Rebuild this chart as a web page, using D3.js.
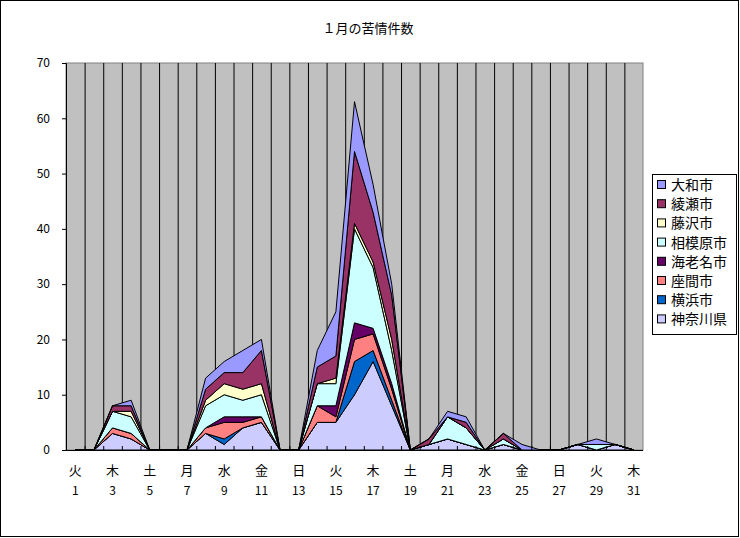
<!DOCTYPE html>
<html>
<head>
<meta charset="utf-8">
<script src="https://cdn.jsdelivr.net/npm/d3@7"></script>
<style>
  body { margin: 0; background: #fff; }
  text { font-family: "Noto Sans CJK JP", sans-serif; }
</style>
</head>
<body>
<div id="grafico"></div>
<script>
// categorias (dias de janeiro) e dias da semana
const days = [1,2,3,4,5,6,7,8,9,10,11,12,13,14,15,16,17,18,19,20,21,22,23,24,25,26,27,28,29,30,31];
const weekdays = ["火","水","木","金","土","日","月","火","水","木","金","土","日","月","火","水","木","金","土","日","月","火","水","木","金","土","日","月","火","水","木"];

// séries, de baixo para cima na pilha
const kanagawa = [0,0,3,2,0,0,0,3,1,4,5,0,0,5,5,10,16,8,0,1,2,1,0,1,0,0,0,1,0,1,0];
const yokohama = [0,0,0,0,0,0,0,0,1,0,0,0,0,0,0,6,2,1,0,0,0,0,0,0,0,0,0,0,0,0,0];
const zama     = [0,0,1,1,0,0,0,1,3,1,1,0,0,3,1,4,3,2,0,0,0,0,0,0,0,0,0,0,0,0,0];
const ebina    = [0,0,0,0,0,0,0,0,1,1,0,0,0,0,2,3,1,1,0,0,0,0,0,0,0,0,0,0,0,0,0];
const sagamihara = [0,0,3,3,0,0,0,4,4,3,4,0,0,4,4,17,11,6,0,0,4,3,0,1,0,0,0,0,1,0,0];
const fujisawa = [0,0,0,1,0,0,0,1,2,2,2,0,0,0,1,1,1,2,0,0,0,0,0,0,0,0,0,0,0,0,0];
const ayase    = [0,0,1,1,0,0,0,2,2,3,6,0,0,3,4,13,9,8,0,1,0,1,0,1,0,0,0,0,0,0,0];
const yamato   = [0,0,0,1,0,0,0,2,2,4,2,0,0,3,8,9,5,2,0,0,1,1,0,0,1,0,0,0,1,0,0];

const seriesNames = ["神奈川県","横浜市","座間市","海老名市","相模原市","藤沢市","綾瀬市","大和市"];
const seriesValues = [kanagawa, yokohama, zama, ebina, sagamihara, fujisawa, ayase, yamato];
const seriesColors = ["#CCCCFF","#0066CC","#FF8080","#660066","#CCFFFF","#FFFFCC","#993366","#9999FF"];
const yTicks = [0,10,20,30,40,50,60,70];

const width = 740, height = 538;
const plot = { left: 66, right: 643, top: 63, bottom: 450 };

const svg = d3.select("#grafico")
    .append("svg")
    .attr("width", width)
    .attr("height", height);

// moldura externa
svg.append("rect")
    .attr("x", 0.5).attr("y", 0.5)
    .attr("width", width - 2).attr("height", height - 2)
    .attr("fill", "#fff")
    .attr("stroke", "#000");

svg.append("text")
    .attr("x", 368).attr("y", 33)
    .attr("text-anchor", "middle")
    .style("font-size", "13px")
    .text("１月の苦情件数");

// tabela para o d3.stack
const rows = days.map((d, i) => {
    const r = { day: d };
    seriesNames.forEach((n, k) => r[n] = seriesValues[k][i]);
    return r;
});
const stacked = d3.stack().keys(seriesNames)(rows);

const x = d3.scaleBand().domain(days).range([plot.left, plot.right]).padding(0);
const y = d3.scaleLinear().domain([0, 70]).range([plot.bottom, plot.top]);
const cx = d => x(d) + x.bandwidth() / 2;

// fundo cinza da área de plotagem
svg.append("rect")
    .attr("x", plot.left).attr("y", plot.top)
    .attr("width", plot.right - plot.left).attr("height", plot.bottom - plot.top)
    .attr("fill", "#C0C0C0")
    .attr("stroke", "#808080");

// linhas de grade verticais nos limites das categorias
svg.append("g")
    .selectAll("line")
    .data(days.slice(1))
    .join("line")
    .attr("x1", d => x(d) + 0.5).attr("x2", d => x(d) + 0.5)
    .attr("y1", plot.top).attr("y2", plot.bottom)
    .attr("stroke", "#000");

const area = d3.area()
    .x(d => cx(d.data.day))
    .y0(d => y(d[0]))
    .y1(d => y(d[1]));

svg.append("g")
    .selectAll("path")
    .data(stacked)
    .join("path")
    .attr("d", area)
    .attr("fill", (d, i) => seriesColors[i])
    .attr("stroke", "#000")
    .attr("stroke-width", 1)
    .attr("stroke-linejoin", "miter");

// eixo Y
const yAxis = svg.append("g")
    .attr("transform", `translate(${plot.left},0)`)
    .call(d3.axisLeft(y).tickValues(yTicks).tickSize(4).tickPadding(12));
yAxis.select(".domain").attr("stroke", "#000");
yAxis.selectAll("text").style("font-size", "12px").attr("fill", "#000");

// eixo X: traços nos limites das categorias
svg.append("line")
    .attr("x1", plot.left).attr("x2", plot.right)
    .attr("y1", plot.bottom + 0.5).attr("y2", plot.bottom + 0.5)
    .attr("stroke", "#000");
svg.append("g")
    .selectAll("line")
    .data(days)
    .join("line")
    .attr("x1", d => x(d) + 0.5).attr("x2", d => x(d) + 0.5)
    .attr("y1", plot.bottom - 4).attr("y2", plot.bottom)
    .attr("stroke", "#000");

const xLabels = svg.append("g")
    .selectAll("g")
    .data(days.filter((d, i) => i % 2 === 0))
    .join("g")
    .attr("transform", d => `translate(${cx(d)},0)`);
xLabels.append("text")
    .attr("y", 475)
    .attr("text-anchor", "middle")
    .style("font-size", "13px")
    .text(d => weekdays[days.indexOf(d)]);
xLabels.append("text")
    .attr("y", 495)
    .attr("text-anchor", "middle")
    .style("font-size", "12px")
    .text(d => d);

// legenda
const legend = svg.append("g").attr("transform", "translate(652,174)");
legend.append("rect")
    .attr("x", 0.5).attr("y", 0.5)
    .attr("width", 84).attr("height", 160)
    .attr("fill", "#fff")
    .attr("stroke", "#000");

const legendOrder = seriesNames.map((n, i) => ({ name: n, color: seriesColors[i] })).reverse();
const item = legend.selectAll("g.item")
    .data(legendOrder)
    .join("g")
    .attr("class", "item")
    .attr("transform", (d, i) => `translate(0,${11 + i * 19.2})`);
item.append("rect")
    .attr("x", 5.5).attr("y", -4.5)
    .attr("width", 8).attr("height", 8)
    .attr("fill", d => d.color)
    .attr("stroke", "#000");
item.append("text")
    .attr("x", 19).attr("y", 5)
    .style("font-size", "14px")
    .text(d => d.name);
</script>
</body>
</html>
